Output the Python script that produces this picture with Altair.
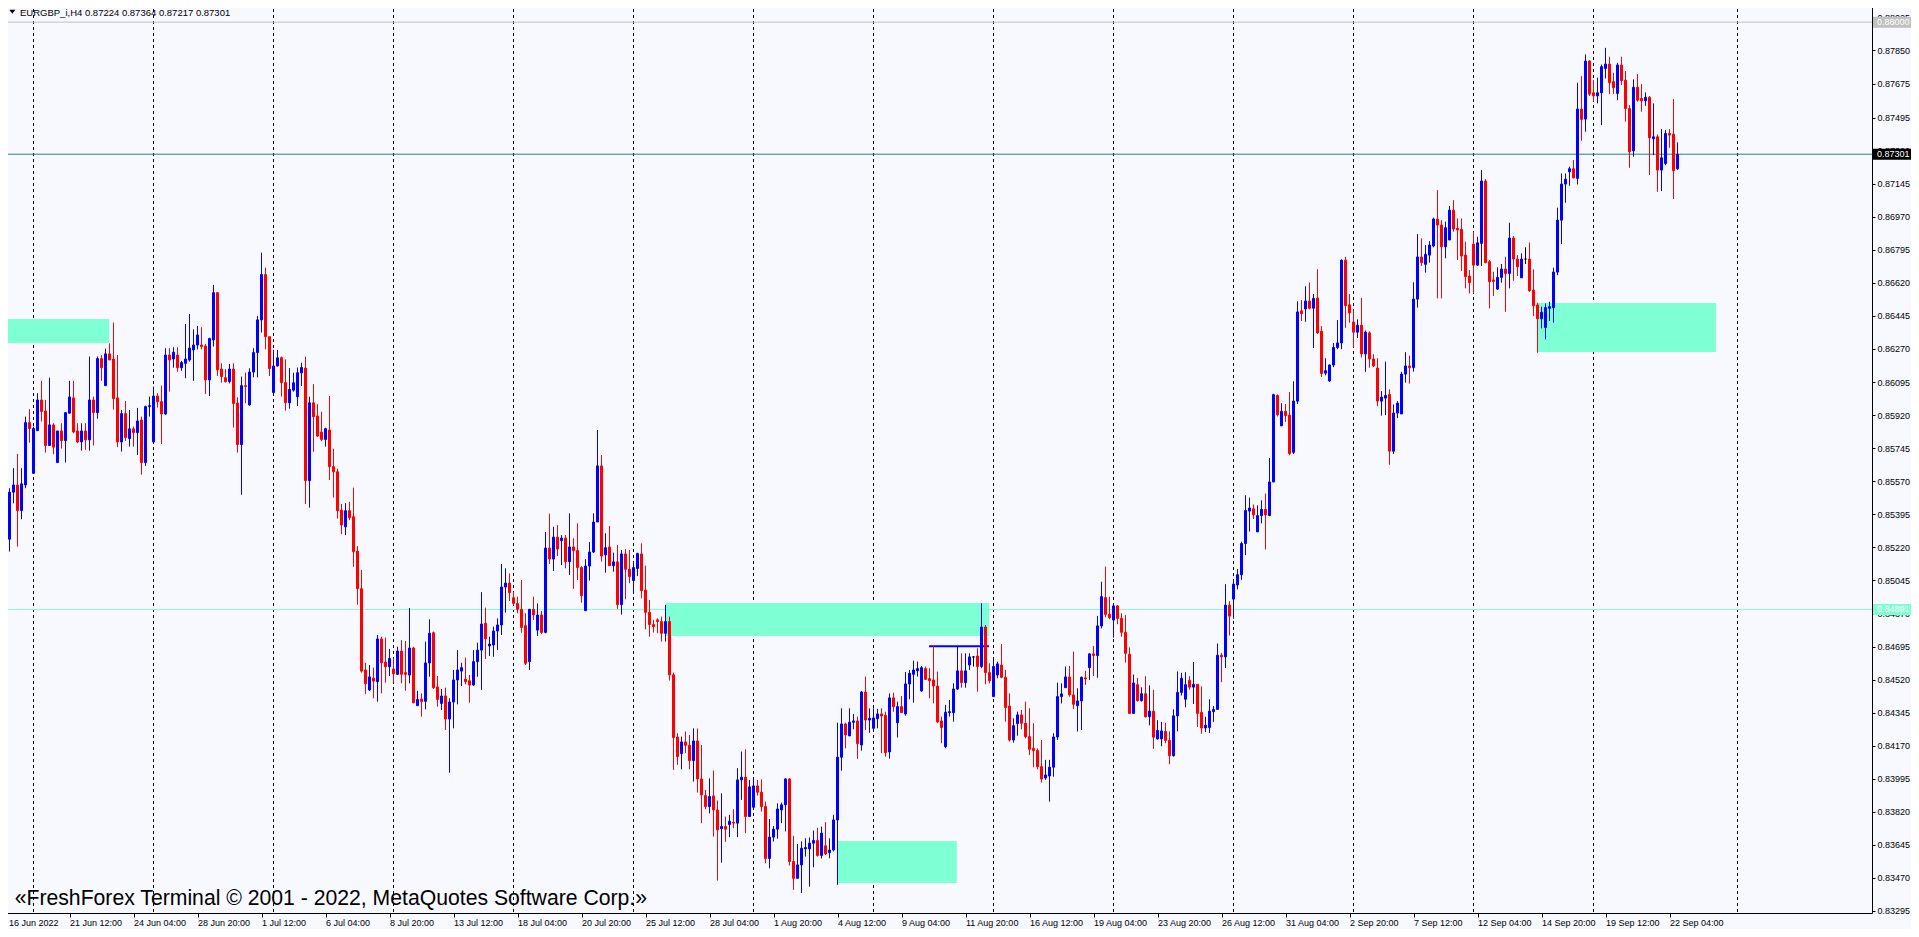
import altair as alt
import pandas as pd

symbol = "EURGBP_i"
timeframe = "H4"

opens = [
0.85281, 0.85263, 0.85512, 0.85550, 0.85415, 0.85550, 0.85880, 0.85612, 0.85838, 0.86000,
0.85942, 0.85759, 0.85868, 0.85669, 0.85836, 0.85785, 0.85930, 0.86011, 0.85836, 0.85778,
0.85836, 0.85789, 0.86000, 0.85933, 0.86219, 0.86076, 0.86244, 0.86217, 0.86011, 0.85778,
0.85928, 0.85796, 0.85847, 0.85827, 0.85894, 0.85669, 0.85965, 0.85778, 0.86021, 0.85991,
0.85926, 0.86238, 0.86217, 0.86238, 0.86171, 0.86194, 0.86212, 0.86265, 0.86291, 0.86291,
0.86286, 0.86106, 0.86318, 0.86568, 0.86164, 0.86118, 0.86097, 0.86164, 0.85984, 0.85764,
0.86076, 0.85974, 0.86148, 0.86251, 0.86424, 0.86664, 0.86335, 0.86039, 0.86180, 0.86224,
0.86092, 0.85985, 0.86052, 0.86017, 0.86144, 0.86169, 0.85573, 0.85985, 0.85915, 0.85830,
0.85791, 0.85841, 0.85647, 0.85620, 0.85417, 0.85329, 0.85414, 0.85382, 0.85200, 0.85001,
0.84571, 0.84465, 0.84528, 0.84509, 0.84735, 0.84613, 0.84588, 0.84576, 0.84548, 0.84671,
0.84557, 0.84544, 0.84687, 0.84382, 0.84417, 0.84405, 0.84608, 0.84768, 0.84481, 0.84394,
0.84433, 0.84311, 0.84401, 0.84518, 0.84565, 0.84523, 0.84514, 0.84491, 0.84615, 0.84676,
0.84818, 0.84698, 0.84703, 0.84777, 0.84809, 0.85010, 0.85031, 0.84953, 0.84923, 0.84892,
0.84805, 0.84615, 0.84892, 0.84782, 0.84862, 0.84770, 0.85216, 0.85158, 0.85274, 0.85255,
0.85269, 0.85144, 0.85222, 0.85203, 0.85113, 0.84885, 0.85121, 0.85195, 0.85354, 0.85651,
0.85180, 0.85222, 0.85123, 0.85143, 0.84917, 0.85185, 0.85104, 0.85044, 0.85108, 0.85185,
0.84994, 0.84876, 0.84811, 0.84836, 0.84827, 0.84765, 0.84827, 0.84545, 0.84216, 0.84128,
0.84190, 0.84172, 0.84091, 0.84195, 0.83994, 0.83906, 0.83848, 0.83904, 0.83830, 0.83731,
0.83742, 0.83753, 0.83765, 0.83760, 0.83989, 0.84003, 0.83795, 0.83844, 0.83957, 0.83924,
0.83848, 0.83573, 0.83686, 0.83728, 0.83830, 0.83857, 0.83994, 0.83557, 0.83468, 0.83539,
0.83624, 0.83624, 0.83654, 0.83668, 0.83589, 0.83640, 0.83604, 0.83618, 0.83777, 0.84109,
0.84285, 0.84222, 0.84294, 0.84301, 0.84174, 0.84454, 0.84306, 0.84262, 0.84313, 0.84338,
0.84331, 0.84137, 0.84423, 0.84292, 0.84377, 0.84338, 0.84497, 0.84548, 0.84567, 0.84460,
0.84578, 0.84525, 0.84518, 0.84486, 0.84301, 0.84165, 0.84345, 0.84345, 0.84470, 0.84566,
0.84504, 0.84597, 0.84640, 0.84645, 0.84589, 0.84798, 0.84557, 0.84430, 0.84544, 0.84597,
0.84532, 0.84380, 0.84200, 0.84287, 0.84333, 0.84289, 0.84218, 0.84156, 0.84144, 0.84059,
0.83999, 0.84010, 0.84056, 0.84216, 0.84430, 0.84477, 0.84534, 0.84439, 0.84382, 0.84407,
0.84529, 0.84583, 0.84656, 0.84647, 0.84804, 0.84954, 0.84865, 0.84835, 0.84910, 0.84844,
0.84770, 0.84654, 0.84341, 0.84493, 0.84409, 0.84445, 0.84323, 0.84353, 0.84206, 0.84206,
0.84246, 0.84198, 0.84117, 0.84328, 0.84452, 0.84416, 0.84516, 0.84480, 0.84495, 0.84346,
0.84264, 0.84266, 0.84350, 0.84362, 0.84649, 0.84640, 0.84914, 0.84946, 0.85021, 0.85075,
0.85240, 0.85412, 0.85424, 0.85302, 0.85388, 0.85421, 0.85388, 0.85566, 0.86024, 0.85863,
0.85940, 0.85920, 0.85723, 0.85994, 0.86472, 0.86482, 0.86524, 0.86486, 0.86540, 0.86364,
0.86142, 0.86101, 0.86185, 0.86278, 0.86302, 0.86740, 0.86504, 0.86413, 0.86359, 0.86396,
0.86244, 0.86355, 0.86217, 0.86169, 0.85994, 0.86010, 0.86029, 0.85729, 0.85931, 0.85926,
0.86137, 0.86180, 0.86171, 0.86534, 0.86757, 0.86718, 0.86767, 0.86815, 0.86958, 0.86926,
0.86811, 0.86847, 0.87005, 0.86908, 0.86903, 0.86767, 0.86656, 0.86825, 0.86714, 0.86829,
0.87159, 0.86732, 0.86635, 0.86587, 0.86649, 0.86693, 0.86670, 0.86857, 0.86746, 0.86647,
0.86746, 0.86746, 0.86582, 0.86503, 0.86430, 0.86384, 0.86485, 0.86489, 0.86677, 0.86952,
0.87143, 0.87208, 0.87224, 0.87173, 0.87540, 0.87487, 0.87794, 0.87626, 0.87610, 0.87626,
0.87755, 0.87778, 0.87685, 0.87623, 0.87773, 0.87693, 0.87543, 0.87319, 0.87655, 0.87596,
0.87584, 0.87602, 0.87383, 0.87393, 0.87217, 0.87252, 0.87411, 0.87407, 0.87224,
]

highs = [
0.85633, 0.85533, 0.85639, 0.85715, 0.85639, 0.85912, 0.85951, 0.85859, 0.86036, 0.86101,
0.86000, 0.86118, 0.85877, 0.85836, 0.85877, 0.85933, 0.86101, 0.86101, 0.85877, 0.85877,
0.85877, 0.86230, 0.86018, 0.86230, 0.86238, 0.86272, 0.86300, 0.86410, 0.86238, 0.85947,
0.85995, 0.85947, 0.85859, 0.85958, 0.85912, 0.85970, 0.86018, 0.86071, 0.86036, 0.86076,
0.86274, 0.86274, 0.86279, 0.86279, 0.86207, 0.86402, 0.86455, 0.86374, 0.86392, 0.86385,
0.86297, 0.86330, 0.86609, 0.86568, 0.86194, 0.86163, 0.86191, 0.86194, 0.86014, 0.86124,
0.86145, 0.86168, 0.86274, 0.86445, 0.86780, 0.86701, 0.86335, 0.86265, 0.86265, 0.86230,
0.86215, 0.86169, 0.86144, 0.86172, 0.86197, 0.86229, 0.86017, 0.86084, 0.85978, 0.85938,
0.85853, 0.86021, 0.85742, 0.85636, 0.85449, 0.85454, 0.85461, 0.85536, 0.85227, 0.85100,
0.84609, 0.84597, 0.84583, 0.84756, 0.84747, 0.84742, 0.84682, 0.84632, 0.84694, 0.84729,
0.84724, 0.84899, 0.84694, 0.84460, 0.84447, 0.84721, 0.84839, 0.84774, 0.84539, 0.84470,
0.84477, 0.84421, 0.84571, 0.84676, 0.84609, 0.84636, 0.84544, 0.84676, 0.84715, 0.84983,
0.84901, 0.84747, 0.84800, 0.84844, 0.85132, 0.85109, 0.85082, 0.84985, 0.84959, 0.85047,
0.84871, 0.84892, 0.84959, 0.84923, 0.84883, 0.85301, 0.85398, 0.85329, 0.85338, 0.85285,
0.85285, 0.85400, 0.85268, 0.85347, 0.85120, 0.85157, 0.85248, 0.85400, 0.85841, 0.85709,
0.85294, 0.85333, 0.85192, 0.85231, 0.85206, 0.85210, 0.85206, 0.85148, 0.85192, 0.85241,
0.85123, 0.84941, 0.84836, 0.84844, 0.84853, 0.84915, 0.84853, 0.84557, 0.84236, 0.84218,
0.84245, 0.84227, 0.84262, 0.84261, 0.84174, 0.83936, 0.83997, 0.84038, 0.83880, 0.83918,
0.83795, 0.83804, 0.83834, 0.84051, 0.84139, 0.84151, 0.83989, 0.84003, 0.83989, 0.83992,
0.83874, 0.83782, 0.83745, 0.83865, 0.83869, 0.83998, 0.83998, 0.83693, 0.83650, 0.83663,
0.83680, 0.83684, 0.83721, 0.83735, 0.83742, 0.83765, 0.83680, 0.83804, 0.84292, 0.84368,
0.84292, 0.84368, 0.84338, 0.84324, 0.84460, 0.84536, 0.84368, 0.84368, 0.84365, 0.84368,
0.84350, 0.84447, 0.84451, 0.84403, 0.84433, 0.84560, 0.84571, 0.84620, 0.84615, 0.84592,
0.84589, 0.84580, 0.84700, 0.84562, 0.84324, 0.84386, 0.84412, 0.84500, 0.84698, 0.84659,
0.84659, 0.84659, 0.84645, 0.84686, 0.84924, 0.84809, 0.84606, 0.84624, 0.84615, 0.84708,
0.84571, 0.84447, 0.84315, 0.84350, 0.84359, 0.84403, 0.84368, 0.84289, 0.84156, 0.84200,
0.84095, 0.84095, 0.84236, 0.84504, 0.84500, 0.84589, 0.84592, 0.84668, 0.84474, 0.84536,
0.84566, 0.84659, 0.84698, 0.84857, 0.85038, 0.85118, 0.84959, 0.84924, 0.84915, 0.84871,
0.84862, 0.84690, 0.84547, 0.84529, 0.84479, 0.84538, 0.84489, 0.84466, 0.84305, 0.84296,
0.84291, 0.84246, 0.84362, 0.84563, 0.84556, 0.84559, 0.84538, 0.84613, 0.84495, 0.84484,
0.84323, 0.84416, 0.84380, 0.84711, 0.84660, 0.85025, 0.84935, 0.85048, 0.85105, 0.85250,
0.85496, 0.85483, 0.85447, 0.85442, 0.85469, 0.85505, 0.85693, 0.86033, 0.86029, 0.85983,
0.85979, 0.86042, 0.86099, 0.86522, 0.86529, 0.86602, 0.86622, 0.86561, 0.86692, 0.86391,
0.86221, 0.86189, 0.86302, 0.86423, 0.86744, 0.86758, 0.86561, 0.86481, 0.86427, 0.86540,
0.86368, 0.86364, 0.86242, 0.86221, 0.86047, 0.86203, 0.86056, 0.85976, 0.85994, 0.86149,
0.86253, 0.86235, 0.86623, 0.86878, 0.86855, 0.86820, 0.86841, 0.86965, 0.87111, 0.86952,
0.86944, 0.87027, 0.87058, 0.86961, 0.86961, 0.86838, 0.86688, 0.86891, 0.86864, 0.87217,
0.87169, 0.86741, 0.86679, 0.86702, 0.86720, 0.86758, 0.86938, 0.86868, 0.86767, 0.86776,
0.86808, 0.86834, 0.86691, 0.86515, 0.86494, 0.86511, 0.86520, 0.86700, 0.87018, 0.87199,
0.87199, 0.87235, 0.87270, 0.87679, 0.87714, 0.87829, 0.87799, 0.87693, 0.87706, 0.87776,
0.87864, 0.87817, 0.87732, 0.87785, 0.87817, 0.87741, 0.87561, 0.87697, 0.87725, 0.87672,
0.87628, 0.87609, 0.87570, 0.87406, 0.87434, 0.87429, 0.87434, 0.87593, 0.87364,
]

lows = [
0.85281, 0.85198, 0.85453, 0.85224, 0.85369, 0.85533, 0.85774, 0.85612, 0.85838, 0.85886,
0.85722, 0.85759, 0.85713, 0.85669, 0.85743, 0.85669, 0.85930, 0.85824, 0.85771, 0.85732,
0.85736, 0.85732, 0.85759, 0.85901, 0.86101, 0.86076, 0.86212, 0.85949, 0.85750, 0.85727,
0.85783, 0.85753, 0.85753, 0.85709, 0.85605, 0.85651, 0.85912, 0.85778, 0.85960, 0.85767,
0.85921, 0.86044, 0.86171, 0.86150, 0.86154, 0.86115, 0.86203, 0.86101, 0.86268, 0.86268,
0.86032, 0.86021, 0.86283, 0.86127, 0.86092, 0.86092, 0.86088, 0.85854, 0.85722, 0.85498,
0.85983, 0.85970, 0.86120, 0.86120, 0.86357, 0.86268, 0.86127, 0.86039, 0.86177, 0.86018,
0.85944, 0.85954, 0.86044, 0.85968, 0.86074, 0.85449, 0.85430, 0.85726, 0.85805, 0.85782,
0.85753, 0.85576, 0.85483, 0.85372, 0.85290, 0.85285, 0.85364, 0.85117, 0.84916, 0.84557,
0.84444, 0.84460, 0.84421, 0.84403, 0.84447, 0.84504, 0.84539, 0.84504, 0.84544, 0.84500,
0.84461, 0.84500, 0.84394, 0.84382, 0.84324, 0.84362, 0.84535, 0.84470, 0.84377, 0.84359,
0.84253, 0.84027, 0.84262, 0.84389, 0.84486, 0.84495, 0.84398, 0.84488, 0.84535, 0.84465,
0.84629, 0.84645, 0.84641, 0.84676, 0.84756, 0.84874, 0.84936, 0.84915, 0.84871, 0.84768,
0.84597, 0.84571, 0.84835, 0.84751, 0.84761, 0.84765, 0.85132, 0.85095, 0.85174, 0.85126,
0.85109, 0.85074, 0.85000, 0.85047, 0.84927, 0.84885, 0.85044, 0.85190, 0.85354, 0.85144,
0.85086, 0.85123, 0.85091, 0.84894, 0.84864, 0.84945, 0.85030, 0.84977, 0.85068, 0.84950,
0.84786, 0.84747, 0.84769, 0.84765, 0.84721, 0.84721, 0.84515, 0.84042, 0.84068, 0.84045,
0.84130, 0.84045, 0.83980, 0.83922, 0.83760, 0.83834, 0.83812, 0.83689, 0.83456, 0.83551,
0.83661, 0.83686, 0.83733, 0.83686, 0.83883, 0.83707, 0.83795, 0.83839, 0.83906, 0.83821,
0.83548, 0.83521, 0.83663, 0.83678, 0.83760, 0.83716, 0.83536, 0.83407, 0.83468, 0.83390,
0.83583, 0.83424, 0.83527, 0.83583, 0.83573, 0.83592, 0.83574, 0.83610, 0.83433, 0.84038,
0.84156, 0.84222, 0.84257, 0.84100, 0.84144, 0.84253, 0.84239, 0.84253, 0.84262, 0.84130,
0.84112, 0.84102, 0.84350, 0.84213, 0.84345, 0.84329, 0.84416, 0.84398, 0.84536, 0.84456,
0.84518, 0.84421, 0.84394, 0.84289, 0.84183, 0.84156, 0.84324, 0.84297, 0.84465, 0.84477,
0.84477, 0.84571, 0.84589, 0.84456, 0.84580, 0.84495, 0.84500, 0.84430, 0.84527, 0.84527,
0.84297, 0.84192, 0.84186, 0.84223, 0.84257, 0.84209, 0.84121, 0.84056, 0.84045, 0.83975,
0.83989, 0.83874, 0.84006, 0.84200, 0.84394, 0.84477, 0.84430, 0.84363, 0.84245, 0.84253,
0.84492, 0.84518, 0.84539, 0.84530, 0.84791, 0.84850, 0.84839, 0.84742, 0.84813, 0.84747,
0.84610, 0.84337, 0.84341, 0.84403, 0.84403, 0.84319, 0.84278, 0.84153, 0.84203, 0.84167,
0.84183, 0.84072, 0.84112, 0.84246, 0.84436, 0.84373, 0.84466, 0.84391, 0.84269, 0.84233,
0.84242, 0.84237, 0.84296, 0.84362, 0.84506, 0.84581, 0.84753, 0.84842, 0.84998, 0.85048,
0.85179, 0.85304, 0.85370, 0.85302, 0.85347, 0.85209, 0.85385, 0.85566, 0.85913, 0.85863,
0.85884, 0.85707, 0.85714, 0.85979, 0.86418, 0.86414, 0.86479, 0.86275, 0.86350, 0.86122,
0.86131, 0.86096, 0.86174, 0.86269, 0.86269, 0.86382, 0.86409, 0.86278, 0.86328, 0.86225,
0.86149, 0.86171, 0.86174, 0.85967, 0.85917, 0.85920, 0.85657, 0.85714, 0.85904, 0.85926,
0.86092, 0.86087, 0.86150, 0.86489, 0.86709, 0.86674, 0.86727, 0.86808, 0.86538, 0.86538,
0.86750, 0.86847, 0.86891, 0.86741, 0.86683, 0.86591, 0.86564, 0.86564, 0.86709, 0.86709,
0.86723, 0.86485, 0.86550, 0.86582, 0.86621, 0.86467, 0.86591, 0.86631, 0.86656, 0.86647,
0.86720, 0.86573, 0.86444, 0.86250, 0.86379, 0.86321, 0.86418, 0.86409, 0.86661, 0.86825,
0.87044, 0.87134, 0.87173, 0.87141, 0.87372, 0.87420, 0.87609, 0.87579, 0.87570, 0.87455,
0.87702, 0.87619, 0.87619, 0.87587, 0.87667, 0.87473, 0.87229, 0.87288, 0.87579, 0.87526,
0.87557, 0.87191, 0.87296, 0.87102, 0.87106, 0.87243, 0.87335, 0.87064, 0.87217,
]

closes = [
0.85356, 0.85512, 0.85550, 0.85415, 0.85556, 0.85880, 0.85849, 0.85849, 0.86000, 0.85939,
0.85759, 0.85868, 0.85750, 0.85836, 0.85785, 0.85933, 0.86016, 0.85831, 0.85778, 0.85836,
0.85789, 0.86000, 0.85933, 0.86219, 0.86171, 0.86244, 0.86212, 0.86007, 0.85778, 0.85928,
0.85801, 0.85847, 0.85827, 0.85889, 0.85669, 0.85965, 0.85970, 0.86021, 0.85991, 0.85926,
0.86238, 0.86212, 0.86253, 0.86171, 0.86198, 0.86217, 0.86275, 0.86291, 0.86344, 0.86283,
0.86106, 0.86325, 0.86568, 0.86159, 0.86124, 0.86097, 0.86164, 0.85981, 0.85764, 0.86076,
0.86071, 0.86148, 0.86251, 0.86424, 0.86664, 0.86335, 0.86166, 0.86180, 0.86223, 0.86092,
0.85986, 0.86056, 0.86091, 0.86144, 0.86172, 0.85573, 0.85985, 0.85911, 0.85809, 0.85791,
0.85848, 0.85647, 0.85620, 0.85414, 0.85338, 0.85414, 0.85377, 0.85197, 0.85001, 0.84565,
0.84498, 0.84534, 0.84512, 0.84735, 0.84609, 0.84588, 0.84632, 0.84551, 0.84671, 0.84548,
0.84548, 0.84687, 0.84398, 0.84415, 0.84403, 0.84608, 0.84765, 0.84477, 0.84415, 0.84433,
0.84311, 0.84401, 0.84518, 0.84571, 0.84583, 0.84509, 0.84491, 0.84615, 0.84676, 0.84814,
0.84736, 0.84708, 0.84777, 0.84809, 0.85010, 0.85031, 0.84980, 0.84923, 0.84892, 0.84796,
0.84606, 0.84892, 0.84862, 0.84862, 0.84770, 0.85216, 0.85158, 0.85274, 0.85211, 0.85269,
0.85144, 0.85222, 0.85203, 0.85113, 0.84964, 0.85121, 0.85195, 0.85354, 0.85651, 0.85174,
0.85218, 0.85123, 0.85143, 0.84917, 0.85185, 0.85104, 0.85065, 0.85113, 0.85187, 0.84991,
0.84876, 0.84811, 0.84800, 0.84827, 0.84765, 0.84827, 0.84545, 0.84213, 0.84112, 0.84190,
0.84172, 0.84091, 0.84195, 0.83994, 0.83909, 0.83848, 0.83901, 0.83830, 0.83724, 0.83742,
0.83728, 0.83770, 0.83760, 0.83989, 0.84003, 0.83795, 0.83952, 0.83957, 0.83924, 0.83848,
0.83573, 0.83686, 0.83728, 0.83835, 0.83857, 0.83994, 0.83557, 0.83468, 0.83539, 0.83627,
0.83631, 0.83654, 0.83668, 0.83589, 0.83707, 0.83597, 0.83618, 0.83777, 0.84109, 0.84285,
0.84227, 0.84294, 0.84301, 0.84181, 0.84454, 0.84306, 0.84315, 0.84317, 0.84338, 0.84327,
0.84133, 0.84423, 0.84377, 0.84377, 0.84345, 0.84497, 0.84553, 0.84571, 0.84578, 0.84583,
0.84521, 0.84514, 0.84486, 0.84296, 0.84266, 0.84347, 0.84350, 0.84470, 0.84566, 0.84504,
0.84566, 0.84640, 0.84640, 0.84589, 0.84798, 0.84557, 0.84514, 0.84589, 0.84603, 0.84532,
0.84372, 0.84200, 0.84276, 0.84333, 0.84289, 0.84218, 0.84151, 0.84144, 0.84059, 0.83994,
0.84015, 0.84056, 0.84216, 0.84430, 0.84444, 0.84534, 0.84439, 0.84389, 0.84407, 0.84532,
0.84523, 0.84656, 0.84647, 0.84804, 0.84959, 0.84865, 0.84848, 0.84910, 0.84844, 0.84770,
0.84659, 0.84341, 0.84502, 0.84409, 0.84445, 0.84323, 0.84353, 0.84215, 0.84251, 0.84248,
0.84198, 0.84117, 0.84328, 0.84452, 0.84527, 0.84493, 0.84480, 0.84495, 0.84341, 0.84264,
0.84278, 0.84353, 0.84362, 0.84649, 0.84640, 0.84914, 0.84856, 0.85025, 0.85075, 0.85240,
0.85415, 0.85428, 0.85392, 0.85388, 0.85421, 0.85392, 0.85566, 0.86028, 0.85922, 0.85940,
0.85917, 0.85716, 0.85994, 0.86466, 0.86457, 0.86524, 0.86486, 0.86538, 0.86355, 0.86140,
0.86155, 0.86185, 0.86278, 0.86302, 0.86740, 0.86499, 0.86461, 0.86359, 0.86396, 0.86244,
0.86359, 0.86217, 0.86180, 0.85994, 0.86015, 0.86024, 0.85729, 0.85931, 0.85983, 0.86137,
0.86180, 0.86171, 0.86534, 0.86757, 0.86727, 0.86771, 0.86820, 0.86958, 0.86926, 0.86811,
0.86912, 0.87005, 0.86905, 0.86900, 0.86762, 0.86653, 0.86621, 0.86714, 0.86832, 0.87159,
0.86727, 0.86626, 0.86628, 0.86649, 0.86693, 0.86670, 0.86857, 0.86746, 0.86705, 0.86746,
0.86746, 0.86578, 0.86499, 0.86430, 0.86464, 0.86489, 0.86494, 0.86677, 0.86952, 0.87143,
0.87169, 0.87224, 0.87176, 0.87540, 0.87485, 0.87794, 0.87619, 0.87610, 0.87626, 0.87764,
0.87778, 0.87679, 0.87653, 0.87773, 0.87690, 0.87543, 0.87314, 0.87655, 0.87587, 0.87584,
0.87602, 0.87388, 0.87393, 0.87217, 0.87282, 0.87411, 0.87402, 0.87214, 0.87301,
]

# bottom axis: bar index of each time label and its text
xtick_bars = [0, 16, 32, 48, 64, 80, 96, 112, 128, 144, 160, 176, 192, 208,
              224, 240, 256, 272, 288, 304, 320, 336, 352, 368, 384, 400, 416]
xtick_labels = ["16 Jun 2022", "21 Jun 12:00", "24 Jun 04:00", "28 Jun 20:00",
                "1 Jul 12:00", "6 Jul 04:00", "8 Jul 20:00", "13 Jul 12:00",
                "18 Jul 04:00", "20 Jul 20:00", "25 Jul 12:00", "28 Jul 04:00",
                "1 Aug 20:00", "4 Aug 12:00", "9 Aug 04:00", "11 Aug 20:00",
                "16 Aug 12:00", "19 Aug 04:00", "23 Aug 20:00", "26 Aug 12:00",
                "31 Aug 04:00", "2 Sep 20:00", "7 Sep 12:00", "12 Sep 04:00",
                "14 Sep 20:00", "19 Sep 12:00", "22 Sep 04:00"]
# right price axis labels
ytick_values = [0.83295, 0.83470, 0.83645, 0.83820, 0.83995, 0.84170, 0.84345,
                0.84520, 0.84695, 0.84870, 0.85045, 0.85220, 0.85395, 0.85570,
                0.85745, 0.85920, 0.86095, 0.86270, 0.86445, 0.86620, 0.86795,
                0.86970, 0.87145, 0.87320, 0.87495, 0.87675, 0.87850, 0.88025]
# weekly separators (bar index of each Monday 00:00, last one in the future area)
week_grid_bars = [7, 37, 67, 97, 127, 157, 187, 217, 247, 277, 307, 337, 367, 397, 433]

# supply / demand zones (bar index start/end, price top/bottom)
zone_start = [-0.125, 164.95, 208.1, 382.95]
zone_end = [25.9, 245.9, 237.8, 427.6]
zone_top = [0.86429, 0.84925, 0.83666, 0.86513]
zone_bottom = [0.86302, 0.84751, 0.83443, 0.86254]

# horizontal levels with their price-axis tag colours
level_prices = [0.88000, 0.84891, closes[-1]]
level_colors = ["#C0C0C0", "#7FFFD4", "#2B8080"]
level_tag_colors = ["#C0C0C0", "#7FFFD4", "#000000"]

# short blue trend segment
trend_bars = [230.9, 245.9]
trend_price = 0.84696

watermark = "\u00abFreshForex Terminal \u00a9 2001 - 2022, MetaQuotes Software Corp.\u00bb"

# ---------------------------------------------------------------------------
n = len(opens)
assert len(highs) == n and len(lows) == n and len(closes) == n

W, H = 1867, 910
FONT = "Liberation Sans"
FS = 9

xscale = alt.Scale(domain=[-0.125, 466.625], nice=False, zero=False, padding=0)
yscale = alt.Scale(domain=[0.832844, 0.881014], nice=False, zero=False, padding=0)

df = pd.DataFrame({"i": list(range(n)), "o": opens, "h": highs, "l": lows, "c": closes})
df["dir"] = ["up" if c > o else ("down" if c < o else "doji") for o, c in zip(opens, closes)]
dir_scale = alt.Scale(domain=["up", "down", "doji"], range=["#0000FF", "#FF0000", "#000000"])

label_expr = "[" + ",".join("'%s'" % s for s in xtick_labels) + "][round(datum.value/16)]"

xaxis = alt.Axis(values=xtick_bars, labelExpr=label_expr, title=None, grid=False,
                 domain=False, ticks=True, tickSize=4, tickColor="#000000", tickWidth=1,
                 labelAlign="left", labelBaseline="top", labelPadding=1,
                 # the first label sits on the chart's left border: nudge it inside
                 labelOffset={"condition": {"test": "datum.value == 0", "value": 3}, "value": 0},
                 labelFont=FONT, labelFontSize=FS, labelColor="#000000",
                 labelOverlap=False, labelFlush=False, orient="bottom")
yaxis = alt.Axis(values=ytick_values, format=".5f", title=None, grid=False,
                 domain=False, ticks=True, tickSize=3, tickColor="#000000", tickWidth=1,
                 labelPadding=2, labelFont=FONT, labelFontSize=FS, labelColor="#000000",
                 labelOverlap=False, labelFlush=False, orient="right")


def X(field):
    return alt.X(field, scale=xscale, axis=xaxis)


def Y(field):
    return alt.Y(field, scale=yscale, axis=yaxis)


grid = alt.Chart(pd.DataFrame({"g": week_grid_bars})).mark_rule(
    color="#000000", strokeDash=[3, 3], strokeWidth=1
).encode(x=X("g:Q"), y=alt.value(0), y2=alt.value(H))

levels_df = pd.DataFrame({"p": level_prices, "col": level_colors, "tag": level_tag_colors,
                          "txt": ["%.5f" % v for v in level_prices]})
hlines = alt.Chart(levels_df).mark_rule(strokeWidth=1).encode(
    y=Y("p:Q"), color=alt.Color("col:N", scale=None))

zones = alt.Chart(pd.DataFrame({"x1": zone_start, "x2": zone_end, "p1": zone_top, "p2": zone_bottom})).mark_rect(
    color="#7FFFD4", opacity=1
).encode(x=X("x1:Q"), x2="x2:Q", y=Y("p1:Q"), y2="p2:Q")

trend = alt.Chart(pd.DataFrame({"a": [trend_bars[0]], "b": [trend_bars[1]], "p": [trend_price]})).mark_rule(
    color="#0000FF", strokeWidth=2
).encode(x=X("a:Q"), x2="b:Q", y=Y("p:Q"))

wicks = alt.Chart(df).mark_rule(strokeWidth=1).encode(
    x=X("i:Q"), y=Y("l:Q"), y2="h:Q",
    color=alt.Color("dir:N", scale=dir_scale, legend=None))

bodies = alt.Chart(df).mark_bar(size=2, strokeWidth=1).encode(
    x=X("i:Q"), y=Y("o:Q"), y2="c:Q",
    color=alt.Color("dir:N", scale=dir_scale, legend=None),
    stroke=alt.Stroke("dir:N", scale=dir_scale, legend=None))

boxes = alt.Chart(levels_df).mark_point(
    shape="M0,-5.5H42V5.5H0Z", size=4, filled=True, opacity=1, strokeWidth=0
).encode(x=alt.value(W + 1), y=Y("p:Q"), color=alt.Color("tag:N", scale=None))
box_text = alt.Chart(levels_df).mark_text(
    align="left", baseline="middle", font=FONT, fontSize=FS, color="#FFFFFF"
).encode(x=alt.value(W + 5), y=Y("p:Q"), text="txt:N")

header_text = "%s,%s  %.5f %.5f %.5f %.5f" % (symbol, timeframe, opens[-1], highs[-1], lows[-1], closes[-1])
header = alt.Chart(pd.DataFrame({"t": [header_text]})).mark_text(
    align="left", baseline="alphabetic", font=FONT, fontSize=9.5, color="#000000"
).encode(x=alt.value(15), y=alt.value(12.5), text="t:N")
header_tri = alt.Chart(pd.DataFrame({"t": [0]})).mark_point(
    shape="M-3,-2L3,-2L0,2Z", size=4, filled=True, opacity=1, strokeWidth=0, color="#000000"
).encode(x=alt.value(7.3), y=alt.value(8.8))
shift_tri = alt.Chart(pd.DataFrame({"t": [0]})).mark_point(
    shape="M-4,-2L4,-2L0,3Z", size=4, filled=True, opacity=1, strokeWidth=0, color="#2F7F7F"
).encode(x=alt.value(1679), y=alt.value(1.5))

wm = alt.Chart(pd.DataFrame({"t": [watermark]})).mark_text(
    align="left", baseline="alphabetic", font=FONT, fontSize=21.2, color="#000000"
).encode(x=alt.value(9.7), y=alt.value(902), text="t:N")

chart = alt.layer(
    grid, hlines, zones, trend, wicks, bodies, boxes, box_text, header, header_tri, shift_tri, wm
).properties(
    width=W, height=H,
    padding={"left": -3, "top": -5, "right": 39, "bottom": 16},
    autosize=alt.AutoSizeParams(type="none"),
    background="#F8F8FF",
).configure_view(stroke="#000000", strokeWidth=1)

chart.save("out.html", embed_options={"renderer": "svg", "actions": False})
